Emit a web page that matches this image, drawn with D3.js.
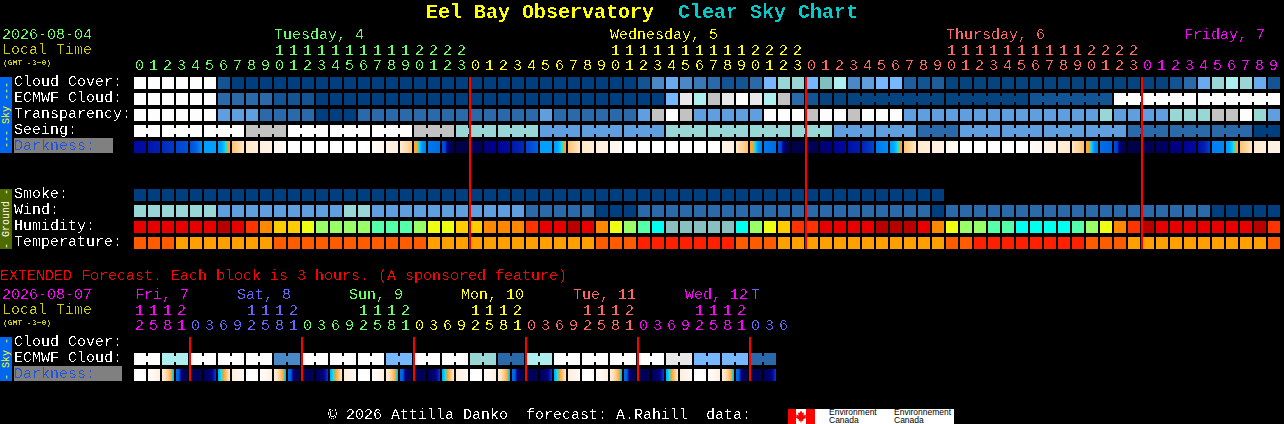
<!DOCTYPE html>
<html><head><meta charset="utf-8">
<script src="https://cdn.jsdelivr.net/npm/d3@7"></script>
<style>
html,body{margin:0;padding:0;background:#000;overflow:hidden}
svg{display:block}
text{font-family:"Liberation Mono",monospace;white-space:pre}
</style></head><body>
<script>
// ---------- data ----------
const cloudCover=[100,100,100,100,100,100,10,0,0,0,
 0,0,0,0,0,0,0,0,0,0,
 0,0,0,0,0,0,0,0,0,0,
 0,0,0,0,0,0,10,30,45,30,
 25,20,10,10,20,50,60,60,50,55,
 70,30,40,50,50,15,10,15,5,5,
 5,5,5,5,5,5,5,5,5,5,
 5,5,5,5,10,20,45,60,70,60,
 45,10];
const ecmwfCloud=[100,100,100,100,100,100,20,20,20,20,
 10,10,10,0,0,0,0,0,0,0,
 0,0,0,0,0,0,0,0,0,0,
 0,0,0,0,0,0,0,0,50,80,
 70,90,80,100,80,70,90,20,10,5,
 5,5,5,5,5,5,5,5,5,5,
 5,5,5,5,10,10,10,10,10,10,
 100,100,100,100,100,100,100,100,100,100,
 100,100];
const transparency=[100,100,100,100,100,100,40,40,40,20,
 20,20,20,0,0,0,20,20,20,20,
 20,20,20,20,20,20,20,20,20,40,
 20,20,20,20,20,20,40,90,100,90,
 40,40,40,40,40,100,100,100,90,100,
 100,90,100,100,100,40,40,40,40,40,
 40,40,40,40,40,40,40,40,40,60,
 40,40,40,40,60,60,60,90,90,100,
 60,40];
const seeing=[100,100,100,100,100,100,100,100,90,90,
 90,100,100,100,100,100,100,100,100,100,
 90,90,90,60,60,60,60,60,60,40,
 40,40,40,40,40,40,40,40,60,60,
 60,60,60,60,60,60,60,60,60,60,
 40,40,40,40,40,40,20,20,20,40,
 40,40,40,40,40,40,40,40,40,40,
 40,20,20,20,20,20,20,20,20,20,
 0,0];
const darkness=[[2.6,2.8],[3.2,3.5],[3.8,4.3],[4.6,5],[5,5.4,6.5],[7,7],[7,7,7.6,8.3,8.6],[9,10],[10,10.6],[10.8,11],
 [11.3,11.7],[12,12],[12,12],[12,12],[12,12],[12,12],[12,11.9],[11.7,11.3],[11,10.6],[10.2,9.2],
 [8.6,8.6,7.6,6.4,6],[5.8,5.6],[5,4.8,1.5,0.8,0.5],[0,0.2],[0.8,1],[1.6,2],[2.2,2.8],[3.2,3.8],[4.6,5.4],[7,7],
 [7,7,7.6,8.3,8.6],[9,10],[10,10.6],[10.8,11],[11.3,11.7],[12,12],[12,12],[12,12],[12,12],[12,12],
 [12,12],[12,12],[11.2,10.8],[10,9],[8.6,8.6,7.6,6.4,6],[5.8,5.6],[5,4.8,1.5,0.8,0.5],[0,0.2],[0.6,0.8],[1.4,1.6],
 [2.2,2.6],[3,3.4],[3.6,4.6],[5.8,6.4],[7,7,7.6,8.3,8.6],[9,10],[10.2,10.6],[10.8,11],[11.4,11.7],[12,12],
 [12,12],[12,12],[12,12],[12,12],[11.7,11.5],[11.1,10.9],[10.6,10.2],[10,9],[8.6,8.6,7.6,6.4,6],[5.6,5.4],
 [4.8,4.6,1.5,0.8,0.5],[0,0.2],[0.6,0.8],[0.9,1.1],[1.6,1.8],[2.2,2.6],[3,3.4,4.6],[6,6.2],[7,7,7.6,8.3,8.6],[9,10],
 [10.2,10.6],[10.8,11]];
const smoke=[0,0,0,0,0,0,0,0,0,0, 0,0,0,0,0,0,0,0,0,0, 0,0,0,0,0,0,0,0,0,0,
 0,0,0,0,0,0,0,0,0,0, 0,0,0,0,0,0,0,0,0,0, 0,0,0,0,0,0,0,0];
const wind=[60,60,60,60,60,60,40,40,40,40,
 40,40,40,40,40,60,60,40,40,40,
 40,40,40,40,40,40,40,40,20,20,
 20,20,20,0,0,0,20,20,20,20,
 20,20,20,20,20,20,20,20,20,20,
 20,20,20,20,20,20,20,0,20,20,
 20,20,20,20,20,20,20,20,20,20,
 20,20,20,20,20,20,20,0,0,0,
 0,0];
const humidity=[1,1,1,1,1,1,0,1,2,3,
 4,4,5,6,6,6,6,7,7,7,
 6,5,5,4,4,3,3,3,2,1,
 1,0,1,3,5,6,7,8,9,9,
 9,9,9,8,6,5,4,2,2,1,
 1,1,1,0,0,0,1,3,5,6,
 6,7,7,8,8,8,8,7,6,5,
 3,2,0,1,1,1,1,1,1,1,
 0,2];
const temperature=[1,1,1,2,2,2,2,2,2,2,
 1,1,1,1,1,1,1,1,1,1,
 1,2,2,2,2,2,2,2,2,2,
 2,2,2,1,1,1,0,0,0,0,
 0,0,0,1,1,1,2,2,2,2,
 2,2,2,2,2,2,2,2,1,1,
 0,0,0,0,0,0,0,0,1,1,
 1,2,2,2,2,2,2,2,2,2,
 2,1];
const extEcmwf=[100,100,70,70,100,100,100,100,100,100,
 30,30,100,100,100,100,100,100,50,50,
 100,100,100,100,60,60,20,20,70,70,
 100,100,100,100,100,100,100,100,80,80,
 50,50,50,50,20,20];
const extDarkness=[[12,12],[12,11.4,10.8],[10.5,10,9.5,9,8.5,7],[5.6,5.4,1,0.8,0.6],[0.5,0.8],[0.9,1.2,4.5],[7,8,8.6,9.2,10.2],[10.6,11.6],
 [12,12],[12,11.4,10.8],[10.5,10,9.5,9,8.5,7],[5.6,5.4,1,0.8,0.6],[0.5,0.8],[0.9,1.2,4.5],[7,8,8.6,9.2,10.2],[10.6,11.6],
 [12,12],[12,11.4,10.8],[10.5,10,9.5,9,8.5,7],[5.6,5.4,1,0.8,0.6],[0.5,0.8],[0.9,1.2,4.5],[7,8,8.6,9.2,10.2],[10.6,11.6],
 [12,12],[12,11.4,10.8],[10.5,10,9.5,9,8.5,7],[5.6,5.4,1,0.8,0.6],[0.5,0.8],[0.9,1.2,4.5],[7,8,8.6,9.2,10.2],[10.6,11.6],
 [12,12],[12,11.4,10.8],[10.5,10,9.5,9,8.5,7],[5.6,5.4,1,0.8,0.6],[0.5,0.8],[0.9,1.2,4.5],[7,8,8.6,9.2,10.2],[10.6,11.6],
 [12,12],[12,11.4,10.8],[10.5,10,9.5,9,8.5,7],[5.6,5.4,1,0.8,0.6],[0.5,0.8],[0.9,1.2,4.5]];
const mainHours=[0,1,2,3,4,5,6,7,8,9,10,11,12,13,14,15,16,17,18,19,20,21,22,23];
const extHours=[0,3,6,9,12,15,18,21];
const mainDays=["Tuesday, 4","Wednesday, 5","Thursday, 6","Friday, 7"];
const mainDayStart=[0,24,48,72];
const mainDayLabelCol=[10,34,58,75];
const mainColumns=82;
const extDays=["Fri, 7","Sat, 8","Sun, 9","Mon, 10","Tue, 11","Wed, 12","T"];
const extDayStart=[-4,4,12,20,28,36,44];
const extColumns=47;
const skyLabels=["Cloud Cover:","ECMWF Cloud:","Transparency:","Seeing:"];
const groundLabels=["Smoke:","Wind:","Humidity:","Temperature:"];

// ---------- scales ----------
const W=1284,H=424;
const svg=d3.select("body").append("svg").attr("width",W).attr("height",H).attr("viewBox",[0,0,W,H]);
svg.append("rect").attr("width",W).attr("height",H).attr("fill","#000");
const defs=svg.append("defs");
const crisp=defs.append("filter").attr("id","crisp").attr("color-interpolation-filters","sRGB")
 .attr("x","-5%").attr("y","-20%").attr("width","110%").attr("height","140%");
crisp.append("feComponentTransfer").append("feFuncA").attr("type","discrete").attr("tableValues","0 0 0 1 1");
const x=d3.scaleLinear().domain([0,1]).range([134,148]);
const CELL=12;
const blue=d3.scaleOrdinal()
 .domain([0,5,10,15,20,25,30,40,45,50,55,60,70,80,90,100])
 .range(["#003f7f","#06447f","#135594","#1d5e9e","#2a6aaa","#3a78b8","#4a88c8","#5f9fe0","#6aabf0","#77b7ff","#80c0c0","#99d6d6","#aeeeee","#e8e8e8","#c2c2c2","#fdfdfd"]);
const humColor=d3.scaleOrdinal().domain([0,1,2,3,4,5,6,7,8,9])
 .range(["#b80000","#e60000","#ff3300","#ff8800","#ffcc00","#eeff11","#99ff66","#55ffaa","#00ffee","#88c0c0"]);
const tempColor=d3.scaleOrdinal().domain([0,1,2]).range(["#ff2000","#ff5c00","#ffa000"]);
const darkColor=d3.scaleLinear()
 .domain([0,1,2,3,4,5,6,7,8,8.5,9,10,11,12])
 .range(["#000048","#000060","#000090","#0010a8","#0030c0","#0050d8","#0080f0","#00a0ff","#00e8ff","#ffa020","#ffc070","#ffe8c8","#fff2e4","#ffffff"]);

// ---------- helpers ----------
function row(values,y,color,joined){
 const g=svg.append("g");
 g.selectAll("rect.c").data(values).join("rect").attr("class","c")
  .attr("x",(d,i)=>x(i)).attr("y",y).attr("width",CELL).attr("height",CELL).attr("fill",d=>color(d));
 if(joined){
  const idx=d3.range(values.length).filter(joined);
  g.selectAll("rect.j").data(idx).join("rect").attr("class","j")
   .attr("x",i=>x(i)-2).attr("y",y+3).attr("width",2).attr("height",6).attr("fill",i=>color(values[i]));
 }
}
let gid=0;
function darkRow(values,y){
 const g=svg.append("g");
 values.forEach((stops,i)=>{
  const id="dk"+(gid++);
  const f=d3.piecewise(d3.interpolateNumber,stops);
  const lg=defs.append("linearGradient").attr("id",id);
  d3.range(0,1.0001,1/11).forEach(t=>lg.append("stop").attr("offset",t).attr("stop-color",darkColor(f(Math.min(t,1)))));
  g.append("rect").attr("x",x(i)).attr("y",y).attr("width",CELL).attr("height",CELL).attr("fill",`url(#${id})`);
 });
}
const FS=15;
function label(s,xp,y,fill,size,weight){
 return svg.append("text").attr("class","crisp").attr("x",xp).attr("y",y).attr("fill",fill)
  .attr("font-size",size||FS).attr("font-weight",weight||"normal").text(s);
}
function sideBar(y0,y1,fill,textFill,s){
 svg.append("rect").attr("x",0).attr("y",y0).attr("width",12).attr("height",y1-y0).attr("fill",fill);
 svg.append("text").attr("transform",`translate(9,${(y0+y1)/2}) rotate(-90)`).attr("text-anchor","middle")
  .attr("font-size",10).attr("fill",textFill).text(s);
}
function hourAxis(yTop,yUnits,cols,hourOf,colorOf){
 const fmtUnits=c=>String(hourOf(c)%10), cols10=cols.filter(c=>hourOf(c)>=10);
 const a1=d3.axisTop(x).tickValues(cols).tickFormat(fmtUnits).tickSize(0).tickPadding(0).offset(0);
 const a2=d3.axisTop(x).tickValues(cols10).tickFormat(c=>String(Math.floor(hourOf(c)/10))).tickSize(0).tickPadding(0).offset(0);
 [[a1,yUnits],[a2,yTop]].forEach(([a,y])=>{
  const g=svg.append("g").attr("transform",`translate(5.5,${y})`).call(a);
  g.select(".domain").remove();
  g.attr("font-size",null).attr("font-family",null);
  g.selectAll("text").attr("class","crisp").attr("font-size",FS).attr("fill",c=>colorOf(c)).attr("dy",0).attr("y",0);
 });
}

// ---------- title ----------
label("Eel Bay Observatory",426,18,"#ffff00",20,"bold");
label("Clear Sky Chart",678,18,"#00cccc",20,"bold");

// ---------- main header ----------
const dayPalette=["#66ff66","#ffff00","#ff6666","#ff00ff"];
const mainDayIdx=c=>d3.bisectRight(mainDayStart,c)-1;
label("2026-08-04",2,39,"#66ff66");
label("Local Time",2,54,"#cccc00");
label("(GMT -3+0)",3,65,"#cccc00",8,"bold");
mainDays.forEach((d,i)=>label(d,x(mainDayLabelCol[i]),39,dayPalette[i]));
hourAxis(55,70,d3.range(mainColumns),c=>mainHours[c%24],c=>dayPalette[mainDayIdx(c)]);

// ---------- sky block ----------
const skyY=[77,93,109,125,141], groundY=[189,205,221,237];
skyLabels.forEach((s,i)=>label(s,14,skyY[i]+9,"#fff"));
svg.append("rect").attr("x",14).attr("y",138).attr("width",99).attr("height",15).attr("fill","#808080");
label("Darkness:",14,150,"#2255dd");
sideBar(77,153,"#0066ee","#ffff00","--- Sky ---");
row(cloudCover,skyY[0],blue);
const ecmwfBreak=[58,64,70,76];
row(ecmwfCloud,skyY[1],blue,c=>c>=52&&!ecmwfBreak.includes(c));
row(transparency,skyY[2],blue);
row(seeing,skyY[3],blue,c=>c>0&&(c-2)%3!==0);
darkRow(darkness,skyY[4]);

// ---------- ground block ----------
groundLabels.forEach((s,i)=>label(s,14,groundY[i]+9,"#fff"));
sideBar(189,249,"#4f6b00","#ffffff","- Ground -");
row(smoke,groundY[0],blue);
row(wind,groundY[1],blue);
row(humidity,groundY[2],humColor);
row(temperature,groundY[3],tempColor);

// midnight lines (main)
[24,48,72].forEach(c=>svg.append("rect").attr("x",x(c)-1).attr("y",77).attr("width",2).attr("height",172).attr("fill","#ff0000"));

// ---------- extended ----------
label("EXTENDED Forecast. Each block is 3 hours. (A sponsored feature)",0,280,"#ff0000");
label("2026-08-07",2,299,"#ff00ff");
label("Local Time",2,314,"#cccc00");
label("(GMT -3+0)",3,325,"#cccc00",8,"bold");
const extPalette=["#ff00ff","#6666ff","#66ff66","#ffff00","#ff6666","#ff00ff","#6666ff"];
const extDayIdx=c=>d3.bisectRight(extDayStart,c)-1;
extDays.forEach((d,i)=>label(d,i===0?135:(i===6?x(extDayStart[i])+1:x(extDayStart[i])+47),299,extPalette[i]));
hourAxis(315,330,d3.range(extColumns),c=>extHours[(c+4)%8],c=>extPalette[extDayIdx(c)]);
label("Cloud Cover:",14,346,"#fff");
label("ECMWF Cloud:",14,362,"#fff");
svg.append("rect").attr("x",14).attr("y",366).attr("width",108).attr("height",15).attr("fill","#808080");
label("Darkness:",14,378,"#2255dd");
sideBar(337,381,"#0066ee","#ffff00","- Sky -");
row(extEcmwf,353,blue,c=>c%2===1);
darkRow(extDarkness,369);
[4,12,20,28,36,44].forEach(c=>svg.append("rect").attr("x",x(c)-1).attr("y",337).attr("width",2).attr("height",44).attr("fill","#ff0000"));

// ---------- footer ----------
label("\u00a9 2026 Attilla Danko  forecast: A.Rahill  data:",328,419,"#fff");
svg.append("rect").attr("x",788).attr("y",409).attr("width",166).attr("height",15).attr("fill","#fff");
svg.append("rect").attr("x",788).attr("y",409).attr("width",8).attr("height",15).attr("fill","#f00");
svg.append("rect").attr("x",806).attr("y",409).attr("width",9).attr("height",15).attr("fill","#f00");
svg.append("path").attr("transform","translate(801,416.5)").attr("fill","#f00")
 .attr("d","M0,-6L1.5,-3.5L3,-4L2.5,-1L5,-2L4.5,0L5.5,1L2,3L2.5,4.5L.5,4.2L.5,6L-.5,6L-.5,4.2L-2.5,4.5L-2,3L-5.5,1L-4.5,0L-5,-2L-2.5,-1L-3,-4L-1.5,-3.5Z");
[["Environment",829,415],["Canada",829,423],["Environnement",894,415],["Canada",894,423]].forEach(([s,a,b])=>
 svg.append("text").attr("x",a).attr("y",b).attr("font-size",8.5).attr("fill","#000").style("font-family","'Liberation Sans',sans-serif").text(s));

svg.selectAll("text.crisp").attr("filter","url(#crisp)");
</script>
</body></html>
